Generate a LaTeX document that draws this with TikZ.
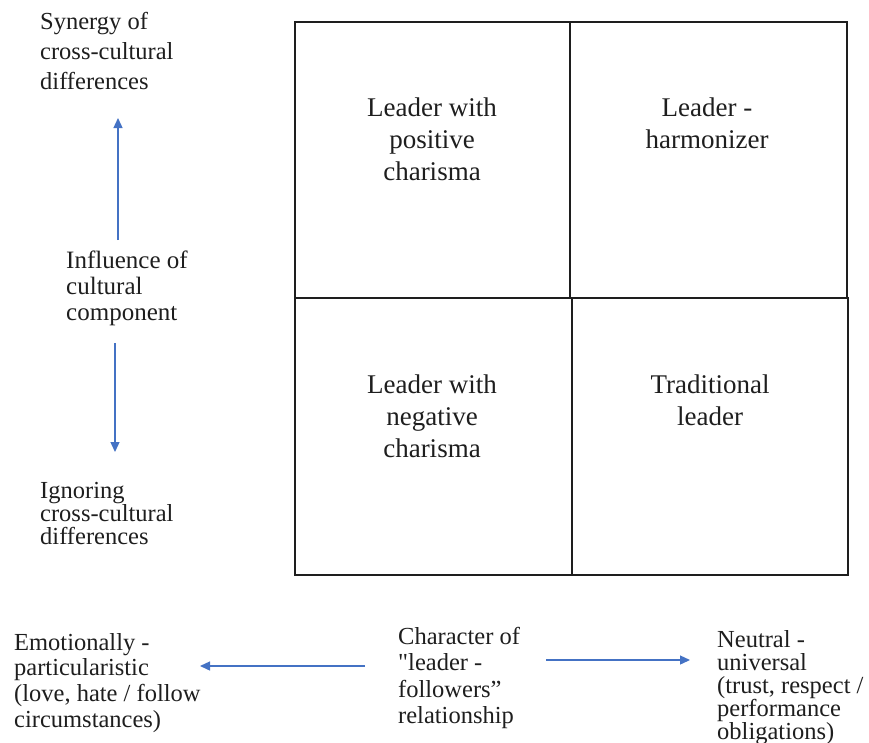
\documentclass[tikz,border=0pt]{standalone}
\usepackage{fontspec}
\setmainfont{Liberation Serif}
\usetikzlibrary{arrows.meta}
\definecolor{arrowblue}{RGB}{68,114,196}
\definecolor{inkgray}{RGB}{30,30,30}
\begin{document}
\begin{tikzpicture}[x=1pt,y=-1pt,
  lbl/.style={inner sep=0pt, align=left, anchor=north west, text=inkgray},
  celltxt/.style={inner sep=0pt, align=center, anchor=north, text=inkgray,
    font=\fontsize{27}{32}\selectfont},
  cellbox/.style={draw=inkgray, line width=1.3pt},
  arr/.style={-{Triangle[length=10pt,width=9pt]}, line width=1.3pt, draw=arrowblue}]
\useasboundingbox (0,0) rectangle (869,742);
% cells
\draw[cellbox] (295,22) rectangle (570,298);
\draw[cellbox] (570,22) rectangle (847,298);
\draw[cellbox] (295,298) rectangle (572,575);
\draw[cellbox] (572,298) rectangle (848,575);
\node[celltxt] (pos) at (432,97.5) {Leader with\\positive\\charisma};
\node[celltxt] (harm) at (707,97.5) {Leader -\\harmonizer};
\node[celltxt] (neg) at (432,375) {Leader with\\negative\\charisma};
\node[celltxt] (trad) at (710,375) {Traditional\\leader};
% left labels
\node[lbl, font=\fontsize{24.5}{30}\selectfont] (syn) at (40,12) {Synergy of\\cross-cultural\\differences};
\node[lbl, font=\fontsize{25}{26}\selectfont] (infl) at (66,251) {Influence of\\cultural\\component};
\node[lbl, font=\fontsize{24.5}{23}\selectfont] (ign) at (40,482) {Ignoring\\cross-cultural\\differences};
% bottom labels
\node[lbl, font=\fontsize{24.5}{25.7}\selectfont] (emo) at (14,633) {Emotionally -\\particularistic\\(love, hate / follow\\circumstances)};
\node[lbl, font=\fontsize{24.5}{26.3}\selectfont] (char) at (398,627) {Character of\\\textquotedbl leader -\\followers”\\relationship};
\node[lbl, font=\fontsize{24.5}{23}\selectfont] (neu) at (717,630) {Neutral -\\universal\\(trust, respect /\\performance\\obligations)};
% arrow ends
\coordinate (upS) at (118,240);
\coordinate (upE) at (118,118);
\coordinate (dnS) at (115,343);
\coordinate (dnE) at (115,452);
\coordinate (lS) at (365,666);
\coordinate (lE) at (200,666);
\coordinate (rS) at (546,660);
\coordinate (rE) at (690,660);
\draw[arr] (upS) -- (upE);
\draw[arr] (dnS) -- (dnE);
\draw[arr] (lS) -- (lE);
\draw[arr] (rS) -- (rE);
\end{tikzpicture}
\end{document}
